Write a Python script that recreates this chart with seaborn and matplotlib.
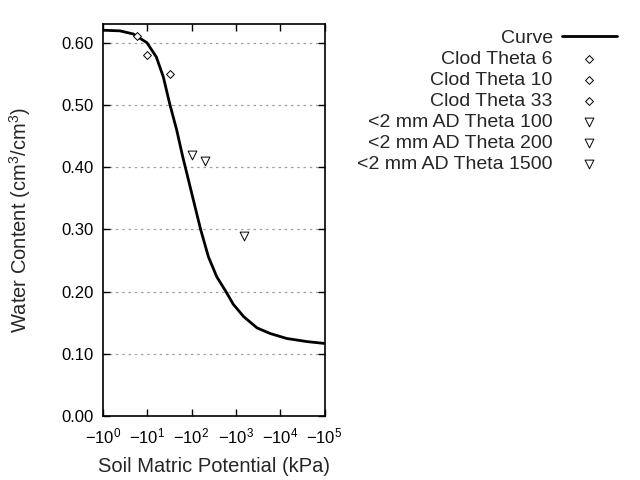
import matplotlib
matplotlib.use("Agg")
import matplotlib.pyplot as plt
import seaborn as sns
import numpy as np
import pandas as pd

sns.set_theme(style="ticks")
plt.rcParams['font.family'] = ['Liberation Sans', 'DejaVu Sans']
plt.rcParams['mathtext.fontset'] = 'custom'
plt.rcParams['mathtext.rm'] = 'Liberation Sans'
plt.rcParams['mathtext.it'] = 'Liberation Sans'
plt.rcParams['mathtext.default'] = 'regular'

# Curve (suction kPa, water content)
curve_psi = [1, 2.4, 4.8, 9.8, 16, 23, 32, 46, 63, 110, 160, 240, 370, 600,
             870, 1500, 3000, 5900, 14000, 40000, 100000]
curve_theta = [0.620, 0.619, 0.614, 0.600, 0.577, 0.545, 0.502, 0.460, 0.417,
               0.347, 0.300, 0.256, 0.224, 0.200, 0.180, 0.160, 0.142, 0.133,
               0.125, 0.120, 0.117]

# Measured points
point_labels = ["Clod Theta 6", "Clod Theta 10", "Clod Theta 33",
                "<2 mm AD Theta 100", "<2 mm AD Theta 200", "<2 mm AD Theta 1500"]
point_psi = [6, 10, 33, 100, 200, 1500]
point_theta = [0.61, 0.58, 0.55, 0.42, 0.41, 0.29]
point_markers = ["D", "D", "D", "v", "v", "v"]
point_sizes = [16, 16, 16, 40, 40, 40]

x_ticks = [1, 10, 100, 1000, 10000, 100000]
x_tick_labels = [r"$-10^{0}$", r"$-10^{1}$", r"$-10^{2}$", r"$-10^{3}$", r"$-10^{4}$", r"$-10^{5}$"]
y_ticks = [0.0, 0.1, 0.2, 0.3, 0.4, 0.5, 0.6]

fig = plt.figure(figsize=(6.4, 4.8), dpi=100)
ax = fig.add_axes([103/640, 1-416.3/480, (324.5-103)/640, (416.3-24)/480])

ax.set_xscale("log")
for yt in y_ticks[1:]:
    ax.axhline(yt, color="#a0a0a0", lw=0.9, ls=(0, (2, 3)), zorder=0)

curve_df = pd.DataFrame({"psi": curve_psi, "theta": curve_theta})
sns.lineplot(data=curve_df, x="psi", y="theta", ax=ax, color="black", lw=2,
             label="Curve", sort=False, zorder=3, solid_joinstyle="round")

for lab, px, py, mk, sz in zip(point_labels, point_psi, point_theta, point_markers, point_sizes):
    sns.scatterplot(x=[px], y=[py], ax=ax, marker=mk, s=sz, facecolor="white",
                    edgecolor="black", linewidth=0.7, label=lab, zorder=4)

ax.set_xlim(1, 1e5)
ax.set_ylim(0, 0.63)
ax.set_xticks(x_ticks)
ax.set_xticklabels(x_tick_labels)
ax.xaxis.set_minor_locator(matplotlib.ticker.NullLocator())
ax.set_yticks(y_ticks)
ax.set_yticklabels([f"{v:.2f}" for v in y_ticks])
ax.tick_params(direction="in", top=True, right=True, length=5, width=1,
               labelsize=12, colors="black", pad=7)
for sp in ax.spines.values():
    sp.set_linewidth(1.2)
    sp.set_color("black")

ax.set_xlabel("Soil Matric Potential (kPa)", fontsize=14.5, labelpad=8)
ax.set_ylabel(r"Water Content (cm$^{3}$/cm$^{3}$)", fontsize=14.5, labelpad=20)

handles, labels = ax.get_legend_handles_labels()
ax.get_legend().remove()
fig.legend(handles, labels, loc="upper right", bbox_to_anchor=(617/640, 1-29.5/480),
           frameon=False, markerfirst=False, fontsize=14, borderpad=0,
           borderaxespad=0, labelspacing=0.17, handlelength=2.85, handletextpad=0.45)

fig.savefig("out.png", dpi=100)
